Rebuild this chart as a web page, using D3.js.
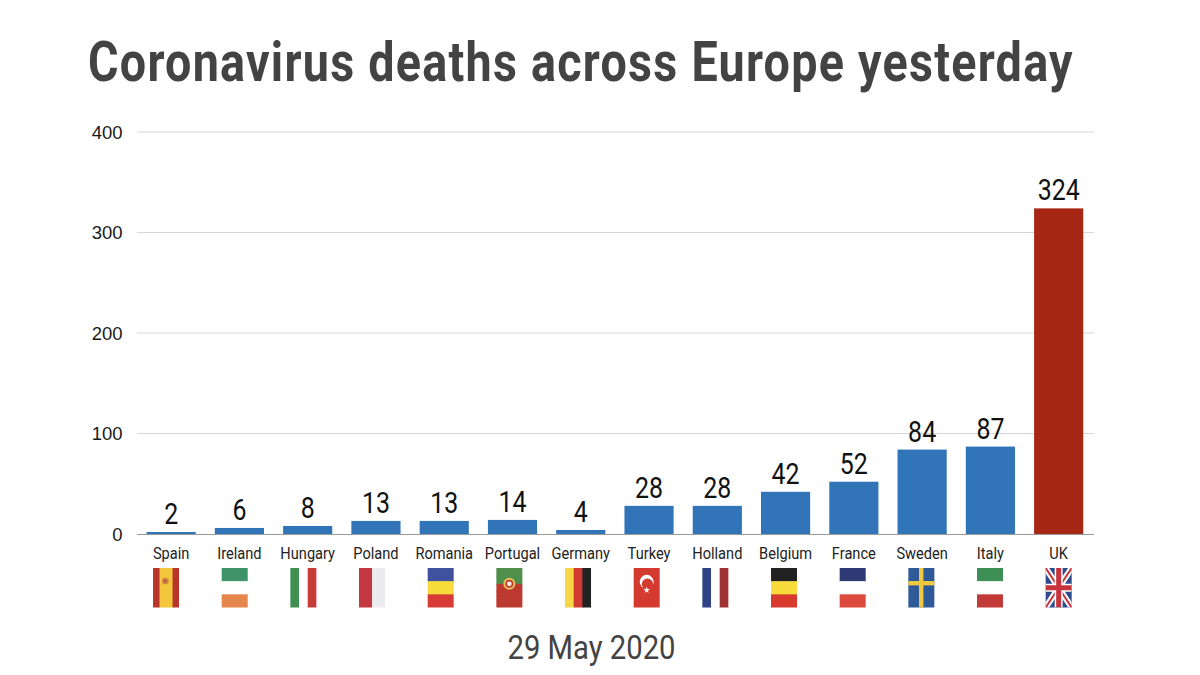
<!DOCTYPE html>
<html>
<head>
<meta charset="utf-8">
<script src="https://d3js.org/d3.v7.min.js"></script>
<style>
  html, body { margin: 0; background: #fff; }
  svg { display: block; }
</style>
</head>
<body>
<svg id="chart" width="1200" height="675"></svg>
<script>
const countries = ['Spain', 'Ireland', 'Hungary', 'Poland', 'Romania', 'Portugal', 'Germany', 'Turkey', 'Holland', 'Belgium', 'France', 'Sweden', 'Italy', 'UK']
const deaths = [2, 6, 8, 13, 13, 14, 4, 28, 28, 42, 52, 84, 87, 324]
const yTicks = [0, 100, 200, 300, 400]
const highlighted = ['UK']

// stripe colours of each flag, in drawing order
const flagColors = {
  Spain: ['#b8352c', '#f3c63c', '#f3c63c', '#b8352c'],
  Ireland: ['#3e9468', '#ffffff', '#e5874d'],
  Hungary: ['#3f8f50', '#ffffff', '#c73c38'],
  Poland: ['#c43640', '#ececee'],
  Romania: ['#3f519f', '#f8dc3c', '#d63c35'],
  Portugal: ['#4f8f4b', '#4f8f4b', '#bd3a30', '#bd3a30', '#bd3a30'],
  Germany: ['#f6d746', '#d33a30', '#222222'],
  Turkey: ['#d43a30'],
  Holland: ['#2f4385', '#ffffff', '#a03236'],
  Belgium: ['#222222', '#f8dc3c', '#d93a2e'],
  France: ['#2d3a73', '#ffffff', '#db4a3c'],
  Sweden: ['#2f5a98'],
  Italy: ['#3e8f55', '#ffffff', '#c23a38'],
  UK: ['#2c4a8c']
}
const verticalFlags = ['Spain', 'Hungary', 'Poland', 'Germany', 'Holland']

const conf = {
  axisLeft: 137,
  axisRight: 1094,
  top: 132,
  bottom: 534,
  flagTop: 568,
  flagWidth: 26,
  flagHeight: 39.5,
  condensed: 0.86
}

const svg = d3.select('#chart')

const x = d3.scaleBand().domain(countries).range([137, 1092.8]).paddingInner(0.28).paddingOuter(0.14)
const y = d3.scaleLinear().domain([0, 400]).range([conf.bottom, conf.top])
// the flags sit a few pixels off the bars on the left side
const flagX = d3.scaleBand().domain(countries).range([131.7, 1093])

/**
 * Roboto Condensed is not installed, so squeeze Roboto sideways instead.
 */
function condensedText (parent, str, px, py, size, weight, fill, anchor) {
  return parent.append('text')
    .attr('transform', `translate(${px},${py}) scale(${conf.condensed},1)`)
    .attr('text-anchor', anchor || 'middle')
    .attr('font-family', 'Roboto')
    .attr('font-size', size)
    .attr('font-weight', weight || 400)
    .attr('fill', fill)
    .text(str)
}

// title, squeezed to the width it has in the reference
const title = svg.append('text')
  .attr('font-family', 'Roboto')
  .attr('font-weight', 700)
  .attr('font-size', 56)
  .attr('letter-spacing', 1.5)
  .attr('fill', '#434343')
  .text('Coronavirus deaths across Europe yesterday')
title.attr('transform', `translate(88,81) scale(${986 / title.node().getComputedTextLength()},1)`)

// grid
svg.append('g').selectAll('line')
  .data(yTicks.filter(d => d > 0))
  .join('line')
  .attr('x1', conf.axisLeft)
  .attr('x2', conf.axisRight)
  .attr('y1', d => y(d))
  .attr('y2', d => y(d))
  .attr('stroke', '#d6d6d6')
  .attr('stroke-width', 1)

svg.append('g').selectAll('text')
  .data(yTicks)
  .join('text')
  .attr('x', 122.5)
  .attr('y', d => y(d) + 6.5)
  .attr('text-anchor', 'end')
  .attr('font-family', 'Liberation Sans')
  .attr('font-size', 18.5)
  .attr('fill', '#1a1a1a')
  .text(d => d)

// bars
svg.append('g').selectAll('rect')
  .data(countries)
  .join('rect')
  .attr('x', d => x(d))
  .attr('width', x.bandwidth())
  .attr('y', (d, i) => y(deaths[i]))
  .attr('height', (d, i) => y(0) - y(deaths[i]))
  .attr('fill', d => highlighted.includes(d) ? '#a52714' : '#3174b8')

svg.append('line')
  .attr('x1', conf.axisLeft)
  .attr('x2', conf.axisRight)
  .attr('y1', y(0) + 0.5)
  .attr('y2', y(0) + 0.5)
  .attr('stroke', '#9a9a9a')
  .attr('stroke-width', 1.2)

// value and country labels
countries.forEach((c, i) => {
  const cx = x(c) + x.bandwidth() / 2
  condensedText(svg, deaths[i], cx, y(deaths[i]) - 8, 29, 400, '#111')
  condensedText(svg, c, cx, 559, 17, 400, '#222')
})

/**
 * Extra marks on the flags that are not plain stripes
 */
function drawFlagDetail (g, c, w, h) {
  if (c === 'Spain') {
    g.append('circle').attr('cx', w * 0.47).attr('cy', h * 0.33).attr('r', 3.5).attr('fill', '#d08a45')
    g.append('circle').attr('cx', w * 0.47).attr('cy', h * 0.33).attr('r', 1.5).attr('fill', '#b8503a')
  } else if (c === 'Portugal') {
    g.append('circle').attr('cx', w / 2).attr('cy', h * 0.4).attr('r', 6).attr('fill', '#e3c35a')
    g.append('circle').attr('cx', w / 2).attr('cy', h * 0.4).attr('r', 4).attr('fill', '#c0392f')
    g.append('circle').attr('cx', w / 2).attr('cy', h * 0.4).attr('r', 2.4).attr('fill', '#f1ece6')
  } else if (c === 'Turkey') {
    g.append('circle').attr('cx', w * 0.5).attr('cy', h * 0.35).attr('r', 7).attr('fill', '#fff')
    g.append('circle').attr('cx', w * 0.53).attr('cy', h * 0.41).attr('r', 5.6).attr('fill', '#d43a30')
    g.append('path')
      .attr('transform', `translate(${w * 0.5},${h * 0.56})`)
      .attr('d', d3.symbol(d3.symbolStar, 14))
      .attr('fill', '#fff')
  } else if (c === 'Sweden') {
    g.append('rect').attr('x', w * 0.41).attr('width', w * 0.17).attr('height', h).attr('fill', '#f2c93e')
    g.append('rect').attr('y', h * 0.33).attr('width', w).attr('height', h * 0.11).attr('fill', '#f2c93e')
  } else if (c === 'UK') {
    const cross = (x1, y1, x2, y2, color, sw) => g.append('line')
      .attr('x1', x1).attr('y1', y1).attr('x2', x2).attr('y2', y2)
      .attr('stroke', color).attr('stroke-width', sw)
      .attr('clip-path', 'url(#uk-clip)')
    cross(0, 0, w, h, '#fff', 6)
    cross(w, 0, 0, h, '#fff', 6)
    cross(0, 0, w, h, '#c8343c', 2)
    cross(w, 0, 0, h, '#c8343c', 2)
    cross(w / 2, 0, w / 2, h, '#fff', 8)
    cross(0, h / 2, w, h / 2, '#fff', 8)
    cross(w / 2, 0, w / 2, h, '#c8343c', 5)
    cross(0, h / 2, w, h / 2, '#c8343c', 5)
  }
}

// flags
const flagW = conf.flagWidth
const flagH = conf.flagHeight

svg.append('defs').append('clipPath')
  .attr('id', 'uk-clip')
  .attr('clipPathUnits', 'userSpaceOnUse')
  .append('rect')
  .attr('width', flagW)
  .attr('height', flagH)

const flags = svg.append('g').selectAll('g')
  .data(countries)
  .join('g')
  .attr('transform', d => `translate(${flagX(d) + flagX.bandwidth() / 2 - flagW / 2},${conf.flagTop})`)

flags.each(function (c) {
  const g = d3.select(this)
  const colors = flagColors[c]
  const vertical = verticalFlags.includes(c)
  const stripe = d3.scaleBand().domain(d3.range(colors.length)).range([0, vertical ? flagW : flagH])
  // stripes overlap a little unless it is the last one, so no seams show
  const extra = i => i < colors.length - 1 ? 0.6 : 0
  g.selectAll('rect')
    .data(colors)
    .join('rect')
    .attr('x', (d, i) => vertical ? stripe(i) : 0)
    .attr('y', (d, i) => vertical ? 0 : stripe(i))
    .attr('width', (d, i) => vertical ? stripe.bandwidth() + extra(i) : flagW)
    .attr('height', (d, i) => vertical ? flagH : stripe.bandwidth() + extra(i))
    .attr('fill', d => d)
  drawFlagDetail(g, c, flagW, flagH)
})

// footer date
condensedText(svg, '29 May 2020', 591.5, 659, 34, 400, '#434343')
</script>
</body>
</html>
